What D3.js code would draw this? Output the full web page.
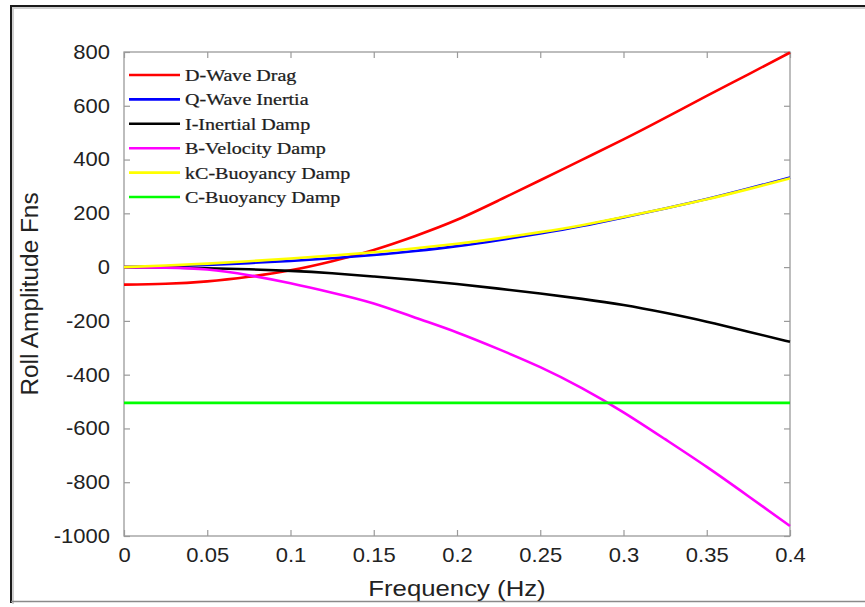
<!DOCTYPE html>
<html>
<head>
<meta charset="utf-8">
<script src="https://cdn.jsdelivr.net/npm/d3@7"></script>
<style>
  html, body { margin: 0; padding: 0; background: #fff; }
  svg { display: block; }
</style>
</head>
<body>
<svg id="chart" width="865" height="607"></svg>
<script>
// ---- data ----
const frequency = [0, 0.025, 0.05, 0.075, 0.1, 0.125, 0.15, 0.175, 0.2, 0.225, 0.25, 0.275, 0.3, 0.325, 0.35, 0.375, 0.4];
const waveDrag      = [-65, -62, -53, -36, -12, 22, 64, 116, 176, 248, 323, 399, 475, 555, 637, 717, 798];
const waveInertia   = [0, 3, 8, 15, 23, 33, 45, 60, 78, 100, 125, 153, 185, 218, 253, 292, 333];
const inertialDamp  = [0, -1, -4, -8, -14, -23, -35, -48, -63, -80, -98, -118, -141, -170, -203, -240, -278];
const velocityDamp  = [0, -2, -9, -30, -60, -95, -135, -188, -243, -305, -372, -450, -540, -640, -743, -852, -963];
const kcBuoyancy    = [0, 6, 13, 22, 32, 43, 55, 70, 87, 107, 130, 156, 186, 218, 252, 290, 330];
const cBuoyancy     = [-505, -505, -505, -505, -505, -505, -505, -505, -505, -505, -505, -505, -505, -505, -505, -505, -505];
const seriesNames   = ["D-Wave Drag", "Q-Wave Inertia", "I-Inertial Damp", "B-Velocity Damp", "kC-Buoyancy Damp", "C-Buoyancy Damp"];
const seriesColors  = ["#ff0000", "#0000ff", "#000000", "#ff00ff", "#ffff00", "#00ff00"];
const xTicks = [0, 0.05, 0.1, 0.15, 0.2, 0.25, 0.3, 0.35, 0.4];
const yTicks = [-1000, -800, -600, -400, -200, 0, 200, 400, 600, 800];
const xLabel = "Frequency (Hz)";
const yLabel = "Roll Amplitude Fns";

const seriesValues = [waveDrag, waveInertia, inertialDamp, velocityDamp, kcBuoyancy, cBuoyancy];

// ---- layout ----
const svg = d3.select("#chart");
const L = 124, R = 790, T = 52, B = 536;
const x = d3.scaleLinear().domain([0, 0.4]).range([L, R]);
const y = d3.scaleLinear().domain([-1000, 800]).range([B, T]);

// outer frame (left/top dark, bottom grey)
svg.append("path").attr("d", "M12,603V7H870").attr("fill", "none")
  .attr("stroke", "#cfcfcf").attr("stroke-width", 2).attr("transform", "translate(1,1)");
svg.append("path").attr("d", "M11,603V6H870").attr("fill", "none")
  .attr("stroke", "#1a1a1a").attr("stroke-width", 2);
svg.append("line").attr("x1", 11).attr("x2", 870).attr("y1", 601.5).attr("y2", 601.5)
  .attr("stroke", "#8a8a8a").attr("stroke-width", 1.5);

const axisColor = "#9a9a9a";
const tickFont = "'Liberation Sans', Arial, Helvetica, sans-serif";

// axes box
svg.append("rect").attr("x", L).attr("y", T).attr("width", R - L).attr("height", B - T)
  .attr("fill", "none").attr("stroke", axisColor).attr("stroke-width", 1.3);

function styleAxis(g) {
  g.select(".domain").remove();
  g.selectAll(".tick line").attr("stroke", axisColor).attr("stroke-width", 1.2);
}

// inward ticks on all four sides
svg.append("g").attr("transform", `translate(0,${B})`)
  .call(d3.axisBottom(x).tickValues(xTicks).tickSize(-6).tickFormat(d => d3.format("~g")(d)).tickPadding(12))
  .call(styleAxis)
  .call(g => g.selectAll("text").attr("fill", "#222").attr("font-family", tickFont).attr("font-size", 20));
svg.append("g").attr("transform", `translate(0,${T})`)
  .call(d3.axisTop(x).tickValues(xTicks).tickSize(-6).tickFormat(""))
  .call(styleAxis);
svg.append("g").attr("transform", `translate(${L},0)`)
  .call(d3.axisLeft(y).tickValues(yTicks).tickSize(-6).tickFormat(d => d).tickPadding(14))
  .call(styleAxis)
  .call(g => g.selectAll("text").attr("fill", "#222").attr("font-family", tickFont).attr("font-size", 20));
svg.append("g").attr("transform", `translate(${R},0)`)
  .call(d3.axisRight(y).tickValues(yTicks).tickSize(-6).tickFormat(""))
  .call(styleAxis);

// stretch tick labels horizontally a bit (source looks wider)
svg.selectAll(".tick text").each(function() {
  const t = d3.select(this);
  const xx = +t.attr("x") || 0;
  t.attr("transform", "scale(1.1,1)").attr("x", xx / 1.1);
});

// axis labels
svg.append("text")
  .attr("transform", `translate(${(L + R) / 2},596) scale(1.12,1)`)
  .attr("text-anchor", "middle").attr("font-family", tickFont).attr("font-size", 23)
  .attr("fill", "#222").text(xLabel);
svg.append("text")
  .attr("transform", `translate(38,${(T + B) / 2}) rotate(-90) scale(1.06,1)`)
  .attr("text-anchor", "middle").attr("font-family", tickFont).attr("font-size", 23)
  .attr("fill", "#222").text(yLabel);

// lines
const line = d3.line().x(d => x(d[0])).y(d => y(d[1])).curve(d3.curveNatural);
seriesValues.forEach((vals, i) => {
  svg.append("path")
    .datum(frequency.map((f, j) => [f, vals[j]]))
    .attr("fill", "none").attr("stroke", seriesColors[i]).attr("stroke-width", 2.6)
    .attr("d", line);
});

// legend
const legX = 129, legY0 = 75, legDy = 24.4;
seriesNames.forEach((name, i) => {
  const yy = legY0 + i * legDy;
  svg.append("line").attr("x1", legX).attr("x2", legX + 51).attr("y1", yy).attr("y2", yy)
    .attr("stroke", seriesColors[i]).attr("stroke-width", 2.6);
  svg.append("text")
    .attr("transform", `translate(${legX + 56},${yy + 6}) scale(1.18,1)`)
    .attr("font-family", "'Liberation Serif', 'Times New Roman', serif")
    .attr("font-size", 17).attr("fill", "#1e1e1e")
    .attr("stroke", "#1e1e1e").attr("stroke-width", 0.25)
    .text(name);
});
</script>
</body>
</html>
